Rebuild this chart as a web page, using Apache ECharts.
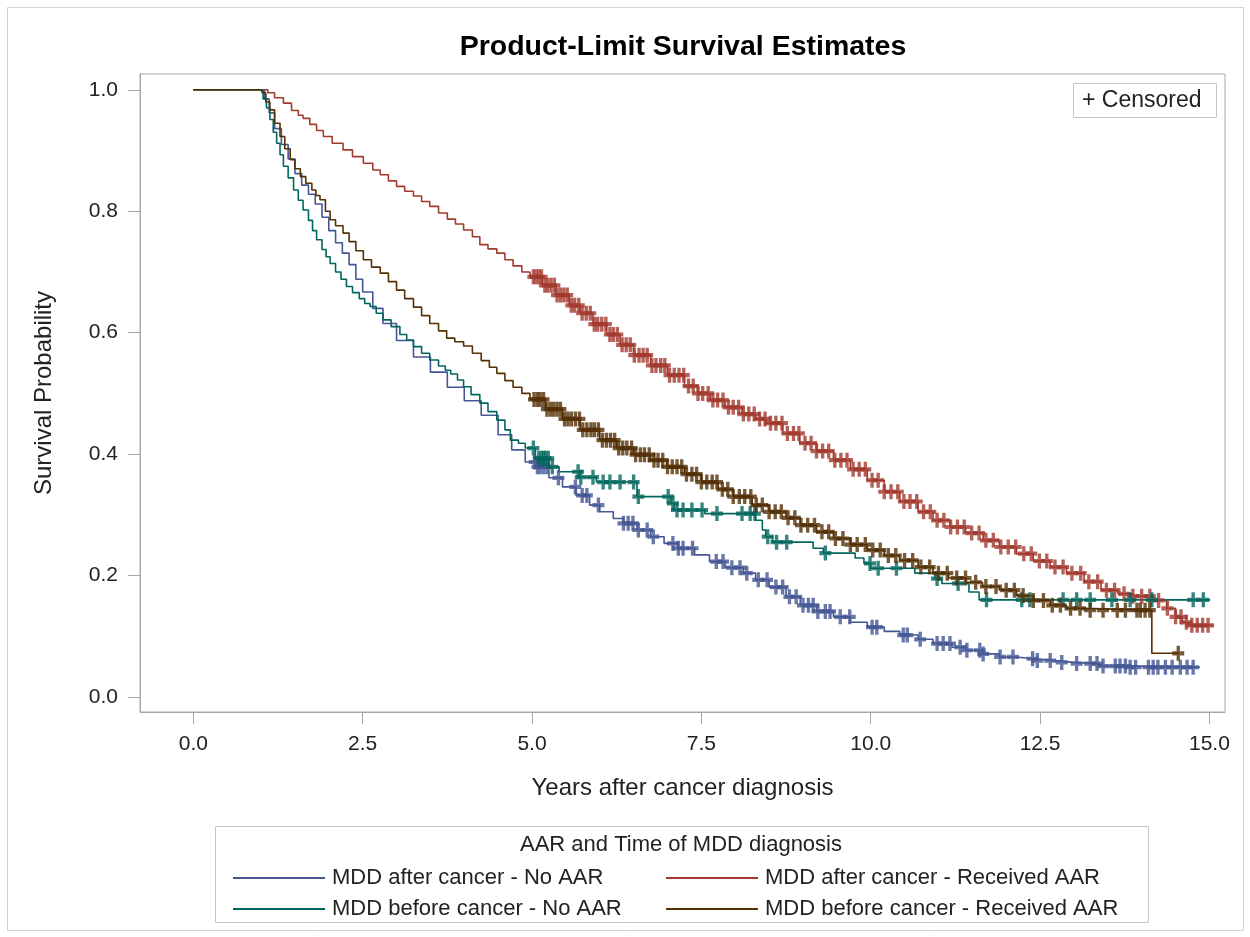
<!DOCTYPE html>
<html>
<head>
<meta charset="utf-8">
<script src="https://cdn.jsdelivr.net/npm/echarts@6/dist/echarts.min.js"></script>
<style>
  html, body { margin: 0; padding: 0; background: #fff; }
  #chart { width: 1250px; height: 937px; }
</style>
</head>
<body>
<div id="chart"></div>
<script>
// tick labels
const xTicks = [0, 2.5, 5, 7.5, 10, 12.5, 15]
const yTicks = [0, 0.2, 0.4, 0.6, 0.8, 1.0]

const groupNames = [
  'MDD after cancer - No AAR',
  'MDD after cancer - Received AAR',
  'MDD before cancer - No AAR',
  'MDD before cancer - Received AAR'
]
const groupColors = ['#445694', '#A23A2E', '#01665E', '#543005']

// MDD after cancer - No AAR
const blueTime = [0, 1.0, 1.05, 1.12, 1.2, 1.3, 1.4, 1.5, 1.6, 1.7, 1.8, 1.9, 2.0, 2.1, 2.2, 2.3, 2.4, 2.5, 2.65, 2.8, 3.0, 3.25, 3.5, 3.75, 4.0, 4.25, 4.5, 4.7, 4.9, 5.05, 5.25, 5.45, 5.65, 5.85, 6.0, 6.2, 6.35, 6.55, 6.75, 6.95, 7.15, 7.4, 7.62, 7.85, 8.12, 8.3, 8.5, 8.75, 8.96, 9.2, 9.45, 9.7, 9.95, 10.2, 10.43, 10.7, 10.92, 11.2, 11.41, 11.65, 11.9, 12.15, 12.4, 12.7, 12.99, 13.38, 13.8, 14.86]
const blueSurv = [1.0, 1.0, 0.985, 0.962, 0.936, 0.91, 0.886, 0.862, 0.843, 0.828, 0.812, 0.79, 0.768, 0.748, 0.731, 0.712, 0.688, 0.667, 0.64, 0.615, 0.587, 0.56, 0.535, 0.51, 0.488, 0.464, 0.432, 0.407, 0.387, 0.379, 0.361, 0.346, 0.332, 0.316, 0.305, 0.294, 0.286, 0.275, 0.264, 0.253, 0.245, 0.234, 0.223, 0.213, 0.204, 0.193, 0.181, 0.165, 0.151, 0.141, 0.132, 0.123, 0.115, 0.108, 0.102, 0.095, 0.088, 0.082, 0.077, 0.071, 0.066, 0.063, 0.06, 0.057, 0.055, 0.051, 0.049, 0.049]
const blueCensor = [5.04, 5.08, 5.12, 5.17, 5.22, 5.39, 5.64, 5.74, 5.81, 5.98, 6.35, 6.42, 6.49, 6.57, 6.7, 6.79, 7.08, 7.16, 7.23, 7.37, 7.72, 7.82, 7.95, 8.07, 8.17, 8.34, 8.47, 8.6, 8.7, 8.8, 8.9, 9.0, 9.08, 9.15, 9.22, 9.33, 9.4, 9.55, 9.69, 10.02, 10.09, 10.48, 10.54, 10.73, 10.98, 11.07, 11.17, 11.32, 11.42, 11.61, 11.66, 11.91, 12.1, 12.39, 12.46, 12.65, 12.82, 13.04, 13.24, 13.34, 13.43, 13.61, 13.68, 13.76, 13.83, 13.91, 14.1, 14.17, 14.24, 14.35, 14.45, 14.57, 14.67, 14.76]

// MDD after cancer - Received AAR
const redTime = [0, 1.0, 1.1, 1.2, 1.33, 1.45, 1.55, 1.62, 1.72, 1.82, 1.92, 2.05, 2.21, 2.35, 2.51, 2.65, 2.76, 2.88, 3.0, 3.12, 3.25, 3.37, 3.49, 3.62, 3.75, 3.87, 3.99, 4.12, 4.23, 4.35, 4.48, 4.6, 4.72, 4.85, 4.97, 5.15, 5.35, 5.55, 5.71, 5.9, 6.1, 6.3, 6.5, 6.75, 7.0, 7.25, 7.45, 7.63, 7.85, 8.1, 8.3, 8.46, 8.7, 8.95, 9.2, 9.45, 9.7, 9.95, 10.2, 10.43, 10.7, 10.92, 11.17, 11.4, 11.66, 11.9, 12.15, 12.4, 12.65, 12.89, 13.15, 13.4, 13.65, 13.87, 14.17, 14.37, 14.5, 14.6, 14.7, 15.05]
const redSurv = [1.0, 1.0, 0.995, 0.987, 0.978, 0.966, 0.958, 0.953, 0.943, 0.933, 0.923, 0.912, 0.901, 0.89, 0.879, 0.868, 0.86, 0.85, 0.841, 0.833, 0.825, 0.816, 0.808, 0.797, 0.787, 0.779, 0.769, 0.758, 0.745, 0.738, 0.731, 0.72, 0.71, 0.7, 0.692, 0.678, 0.662, 0.645, 0.632, 0.614, 0.597, 0.58, 0.563, 0.546, 0.53, 0.512, 0.5, 0.489, 0.477, 0.466, 0.458, 0.451, 0.434, 0.418, 0.405, 0.39, 0.375, 0.357, 0.338, 0.322, 0.305, 0.291, 0.28, 0.27, 0.258, 0.247, 0.236, 0.224, 0.214, 0.204, 0.19, 0.176, 0.17, 0.166, 0.159, 0.146, 0.132, 0.123, 0.118, 0.118]
const redCensor = [5.02, 5.06, 5.1, 5.14, 5.19, 5.23, 5.28, 5.33, 5.37, 5.42, 5.47, 5.52, 5.58, 5.63, 5.69, 5.74, 5.8, 5.86, 5.92, 5.97, 6.03, 6.09, 6.15, 6.2, 6.26, 6.33, 6.39, 6.45, 6.51, 6.58, 6.64, 6.7, 6.77, 6.83, 6.9, 6.96, 7.03, 7.1, 7.17, 7.24, 7.31, 7.38, 7.45, 7.52, 7.6, 7.67, 7.74, 7.82, 7.9, 7.97, 8.05, 8.12, 8.2, 8.28, 8.36, 8.44, 8.52, 8.6, 8.69, 8.77, 8.86, 8.94, 9.03, 9.12, 9.2, 9.29, 9.38, 9.47, 9.56, 9.65, 9.74, 9.83, 9.92, 10.02, 10.11, 10.2, 10.3, 10.4, 10.49, 10.58, 10.68, 10.78, 10.88, 10.98, 11.08, 11.18, 11.28, 11.38, 11.49, 11.6, 11.7, 11.81, 11.92, 12.03, 12.14, 12.26, 12.37, 12.49, 12.6, 12.72, 12.84, 12.97, 13.1, 13.22, 13.35, 13.48, 13.6, 13.74, 13.87, 14.0, 14.12, 14.25, 14.38, 14.5, 14.58, 14.66, 14.74, 14.82, 14.9, 14.98]

// MDD before cancer - No AAR
const tealTime = [0, 1.0, 1.03, 1.08, 1.13, 1.18, 1.23, 1.28, 1.33, 1.4, 1.48, 1.55, 1.62, 1.7, 1.76, 1.82, 1.9, 1.96, 2.02, 2.1, 2.18, 2.26, 2.35, 2.45, 2.53, 2.61, 2.7, 2.8, 2.92, 3.05, 3.15, 3.25, 3.37, 3.49, 3.62, 3.72, 3.8, 3.9, 3.99, 4.1, 4.23, 4.35, 4.48, 4.6, 4.68, 4.8, 4.9, 5.05, 5.25, 5.4, 5.7, 5.95, 6.55, 7.05, 7.1, 7.55, 8.3, 8.4, 8.45, 8.55, 9.15, 9.3, 9.77, 9.9, 10.0, 10.65, 10.95, 11.05, 11.45, 11.6, 15.01]
const tealSurv = [1.0, 1.0, 0.985, 0.97, 0.951, 0.93, 0.912, 0.893, 0.874, 0.855, 0.835, 0.818, 0.802, 0.785, 0.768, 0.753, 0.737, 0.725, 0.714, 0.7, 0.688, 0.676, 0.666, 0.656, 0.648, 0.643, 0.632, 0.621, 0.61, 0.597, 0.588, 0.577, 0.566, 0.555, 0.545, 0.538, 0.532, 0.522, 0.511, 0.498, 0.484, 0.47, 0.456, 0.44, 0.423, 0.418, 0.41, 0.393, 0.379, 0.371, 0.362, 0.354, 0.33, 0.319, 0.308, 0.302, 0.291, 0.275, 0.264, 0.255, 0.245, 0.237, 0.229, 0.22, 0.212, 0.204, 0.195, 0.187, 0.173, 0.16, 0.16]
const tealCensor = [5.02, 5.1, 5.14, 5.17, 5.2, 5.24, 5.3, 5.68, 5.72, 5.9, 6.05, 6.15, 6.3, 6.5, 6.57, 7.01, 7.08, 7.14, 7.23, 7.36, 7.51, 7.73, 8.1, 8.22, 8.29, 8.48, 8.61, 8.76, 9.33, 9.99, 10.11, 10.38, 10.98, 11.29, 11.71, 12.23, 12.35, 12.84, 13.04, 13.24, 13.56, 13.83, 14.15, 14.76, 14.91]

// MDD before cancer - Received AAR
const brownTime = [0, 1.0, 1.02, 1.07, 1.13, 1.2, 1.28, 1.35, 1.43, 1.5, 1.58, 1.66, 1.75, 1.81, 1.87, 1.95, 2.02, 2.1, 2.21, 2.3, 2.4, 2.51, 2.63, 2.76, 2.88, 3.0, 3.12, 3.25, 3.37, 3.49, 3.62, 3.74, 3.86, 3.99, 4.12, 4.25, 4.37, 4.48, 4.6, 4.72, 4.85, 4.97, 5.2, 5.45, 5.71, 6.0, 6.25, 6.5, 6.75, 6.99, 7.25, 7.5, 7.75, 7.97, 8.25, 8.5, 8.75, 8.96, 9.2, 9.45, 9.7, 9.95, 10.2, 10.43, 10.7, 10.92, 11.15, 11.41, 11.65, 11.9, 12.15, 12.4, 12.65, 12.89, 13.14, 14.15, 14.55]
const brownSurv = [1.0, 1.0, 0.995, 0.98, 0.967, 0.945, 0.923, 0.903, 0.885, 0.87, 0.857, 0.846, 0.835, 0.826, 0.819, 0.8, 0.786, 0.776, 0.764, 0.75, 0.735, 0.72, 0.708, 0.698, 0.684, 0.67, 0.656, 0.642, 0.628, 0.615, 0.603, 0.591, 0.585, 0.578, 0.566, 0.554, 0.543, 0.533, 0.521, 0.51, 0.5, 0.49, 0.474, 0.458, 0.44, 0.423, 0.41, 0.399, 0.39, 0.379, 0.367, 0.354, 0.342, 0.33, 0.316, 0.305, 0.295, 0.283, 0.272, 0.261, 0.251, 0.242, 0.233, 0.225, 0.214, 0.204, 0.196, 0.189, 0.182, 0.176, 0.167, 0.159, 0.151, 0.146, 0.143, 0.072, 0.072]
const brownCensor = [5.03, 5.08, 5.12, 5.17, 5.22, 5.27, 5.32, 5.37, 5.42, 5.48, 5.53, 5.58, 5.64, 5.7, 5.75, 5.81, 5.87, 5.92, 5.98, 6.04, 6.1, 6.16, 6.22, 6.28, 6.34, 6.4, 6.47, 6.53, 6.6, 6.66, 6.73, 6.8, 6.86, 6.93, 7.0, 7.07, 7.14, 7.21, 7.28, 7.36, 7.43, 7.5, 7.58, 7.66, 7.73, 7.81, 7.89, 7.97, 8.06, 8.14, 8.23, 8.31, 8.4, 8.5, 8.59, 8.68, 8.78, 8.88, 8.97, 9.07, 9.17, 9.28, 9.38, 9.48, 9.59, 9.7, 9.8, 9.92, 10.03, 10.14, 10.26, 10.37, 10.5, 10.62, 10.74, 10.87, 11.0, 11.13, 11.27, 11.4, 11.55, 11.7, 11.85, 12.0, 12.12, 12.25, 12.4, 12.55, 12.68, 12.8, 12.95, 13.09, 13.24, 13.43, 13.64, 13.76, 13.93, 13.98, 14.05, 14.12, 14.54]

const groups = [
  [blueTime, blueSurv, blueCensor],
  [redTime, redSurv, redCensor],
  [tealTime, tealSurv, tealCensor],
  [brownTime, brownSurv, brownCensor]
]

// survival value of the step curve at time t
function survAt(times, surv, t) {
  let v = surv[0]
  for (let i = 0; i < times.length; i++) {
    if (times[i] <= t) v = surv[i]
  }
  return v
}

const FONT = '"Liberation Sans", Arial, sans-serif'
const AXIS_GREY = '#A3A7AB'
// plus sign used for censored marks
const plusPath = 'path://M3.6,0H6.4V3.6H10V6.4H6.4V10H3.6V6.4H0V3.6H3.6Z'

const series = []
groups.forEach(([times, surv, cens], i) => {
  series.push({
    name: groupNames[i],
    type: 'line',
    step: 'end',
    showSymbol: false,
    color: groupColors[i],
    lineStyle: { width: 1.6, color: groupColors[i] },
    data: times.map((t, k) => [t, surv[k]]),
    z: 2
  })
})
groups.forEach(([times, surv, cens], i) => {
  series.push({
    name: groupNames[i] + ' censored',
    type: 'scatter',
    symbol: plusPath,
    symbolSize: [12, 15],
    itemStyle: { color: groupColors[i] },
    data: cens.map(t => [t, survAt(times, surv, t)]),
    z: 3
  })
})

const chart = echarts.init(document.getElementById('chart'), null, { renderer: 'canvas' })
chart.setOption({
  animation: false,
  backgroundColor: '#fff',
  title: {
    text: 'Product-Limit Survival Estimates',
    left: 678,
    top: 28,
    textAlign: 'center',
    textStyle: { fontFamily: FONT, fontSize: 28.5, fontWeight: 'bold', color: '#000' }
  },
  grid: {
    left: 140, top: 74, width: 1085, height: 638,
    show: true, borderColor: AXIS_GREY, borderWidth: 1, backgroundColor: 'transparent'
  },
  xAxis: {
    type: 'value',
    min: -0.787,
    max: 15.23,
    name: 'Years after cancer diagnosis',
    nameLocation: 'middle',
    nameGap: 64,
    nameTextStyle: { fontFamily: FONT, fontSize: 24, color: '#222' },
    axisLine: { show: true, onZero: false, lineStyle: { color: AXIS_GREY } },
    axisTick: { show: true, inside: false, length: 12, customValues: xTicks, lineStyle: { color: AXIS_GREY } },
    axisLabel: {
      customValues: xTicks,
      margin: 22,
      fontFamily: FONT, fontSize: 21, color: '#222',
      formatter: v => v.toFixed(1)
    },
    splitLine: { show: false }
  },
  yAxis: {
    type: 'value',
    min: -0.0247,
    max: 1.026,
    name: 'Survival Probability',
    nameLocation: 'middle',
    nameGap: 84,
    nameTextStyle: { fontFamily: FONT, fontSize: 24, color: '#222' },
    axisLine: { show: true, onZero: false, lineStyle: { color: AXIS_GREY } },
    axisTick: { show: true, inside: false, length: 12, customValues: yTicks, lineStyle: { color: AXIS_GREY } },
    axisLabel: {
      customValues: yTicks,
      margin: 22,
      fontFamily: FONT, fontSize: 21, color: '#222',
      formatter: v => v.toFixed(1)
    },
    splitLine: { show: false }
  },
  legend: [
    {
      data: [groupNames[0], groupNames[2]],
      orient: 'vertical',
      left: 228, top: 860,
      itemWidth: 92, itemHeight: 2, itemGap: 5,
      icon: 'rect', selectedMode: false,
      textStyle: { fontFamily: FONT, fontSize: 22, color: '#222', lineHeight: 26, padding: [0, 0, 0, 2] }
    },
    {
      data: [groupNames[1], groupNames[3]],
      orient: 'vertical',
      left: 661, top: 860,
      itemWidth: 92, itemHeight: 2, itemGap: 5,
      icon: 'rect', selectedMode: false,
      textStyle: { fontFamily: FONT, fontSize: 22, color: '#222', lineHeight: 26, padding: [0, 0, 0, 2] }
    }
  ],
  graphic: [
    {
      type: 'rect', silent: true,
      shape: { x: 7.5, y: 7.5, width: 1236, height: 923 },
      style: { fill: null, stroke: '#D0D3D6', lineWidth: 1 }
    },
    {
      type: 'rect', silent: true,
      shape: { x: 215.5, y: 826.5, width: 933, height: 96 },
      style: { fill: null, stroke: '#C4C7CA', lineWidth: 1 }
    },
    {
      type: 'text', silent: true,
      style: {
        x: 681, y: 845, text: 'AAR and Time of MDD diagnosis',
        fontFamily: FONT, fontSize: 22, fill: '#222',
        textAlign: 'center', textVerticalAlign: 'middle'
      }
    },
    {
      type: 'rect', silent: true,
      shape: { x: 1073.5, y: 83.5, width: 143, height: 34 },
      style: { fill: '#fff', stroke: '#C4C7CA', lineWidth: 1 }
    },
    {
      type: 'text', silent: true,
      style: {
        x: 1082, y: 101, text: '+ Censored',
        fontFamily: FONT, fontSize: 23, fill: '#222',
        textAlign: 'left', textVerticalAlign: 'middle'
      }
    }
  ],
  series: series
})
</script>
</body>
</html>
